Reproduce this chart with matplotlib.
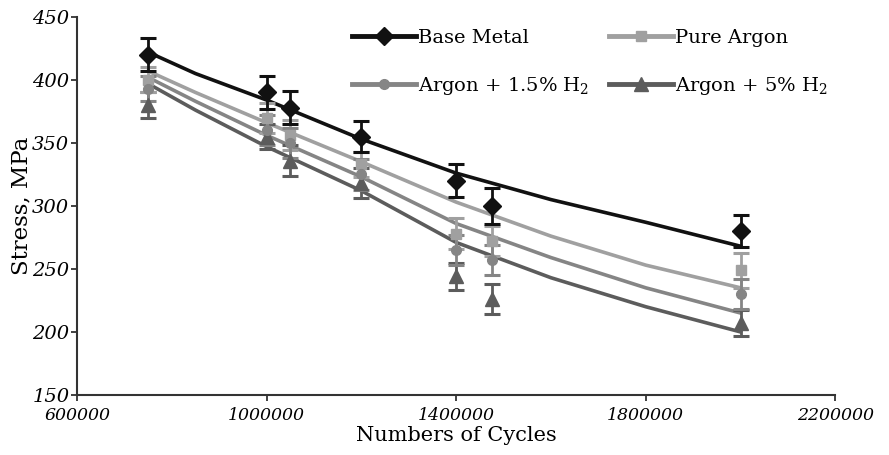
"""Fatigue S-N curve: base metal vs. welds under different shielding gases."""

import matplotlib
matplotlib.use("Agg")
import matplotlib.pyplot as plt

plt.rcParams["font.family"] = "DejaVu Serif"
plt.rcParams["mathtext.fontset"] = "dejavuserif"

# measured points (markers + error bars)
cycles = [750000, 1000000, 1050000, 1200000, 1400000, 1475000, 2000000]
base_metal = [420, 390, 378, 355, 320, 300, 280]
base_err = [13, 13, 13, 12, 13, 14, 13]
pure_argon = [400, 370, 356, 333, 278, 272, 249]
pure_err = [10, 12, 12, 10, 12, 12, 14]
argon_15 = [393, 360, 350, 325, 265, 257, 230]
argon_15_err = [10, 12, 12, 12, 12, 12, 12]
argon_5 = [380, 355, 336, 318, 244, 226, 207]
argon_5_err = [10, 10, 12, 12, 11, 12, 10]

# fitted trend curves
fit_cycles = [750000, 850000, 1000000, 1200000, 1400000, 1600000, 1800000, 2000000]
base_fit = [422, 405, 384, 353, 326, 305, 287, 268]
pure_fit = [407, 390, 366, 335, 303, 276, 253, 235]
argon_15_fit = [402, 383, 356, 323, 286, 259, 235, 215]
argon_5_fit = [397, 376, 347, 312, 271, 243, 220, 200]

series = [
    ("Base Metal", base_metal, base_err, base_fit, "#111111", "D", 9),
    ("Argon + 1.5% H$_2$", argon_15, argon_15_err, argon_15_fit, "#858585", "o", 7),
    ("Pure Argon", pure_argon, pure_err, pure_fit, "#a0a0a0", "s", 7),
    ("Argon + 5% H$_2$", argon_5, argon_5_err, argon_5_fit, "#5c5c5c", "^", 10),
]

fig = plt.figure(figsize=(8.89, 4.55), dpi=100)
ax = fig.add_axes([0.0866, 0.132, 0.853, 0.831])

handles = []
for label, vals, err, fit, color, marker, ms in reversed(series):
    ax.plot(fit_cycles, fit, color=color, lw=2.6, zorder=2)
    ax.errorbar(cycles, vals, yerr=err, fmt=marker, color=color, ms=ms,
                elinewidth=2.0, capsize=6, capthick=2.2, zorder=3)
for label, vals, err, fit, color, marker, ms in series:
    h, = ax.plot([], [], color=color, lw=3.5, marker=marker, ms=ms, label=label)
    handles.append(h)

ax.set_xlim(600000, 2200000)
ax.set_ylim(150, 450)
ax.set_xticks([600000, 1000000, 1400000, 1800000, 2200000])
ax.set_yticks(range(150, 451, 50))
ax.set_xticklabels(["600000", "1000000", "1400000", "1800000", "2200000"],
                   style="italic", fontsize=12.5)
ax.set_yticklabels([str(v) for v in range(150, 451, 50)],
                   style="italic", fontsize=14)
ax.tick_params(direction="out", length=4, width=1.3, color="#333333", pad=1.5)
ax.tick_params(axis="x", pad=5)
for s in ("top", "right"):
    ax.spines[s].set_visible(False)
for s in ("left", "bottom"):
    ax.spines[s].set_linewidth(1.5)
    ax.spines[s].set_color("#333333")

ax.set_xlabel("Numbers of Cycles", fontsize=15, labelpad=1)
ax.set_ylabel("Stress, MPa", fontsize=16.5, labelpad=0)

fig.legend(handles=handles, ncol=2, loc="upper left",
           bbox_to_anchor=(0.376, 0.975), frameon=False, fontsize=14,
           handlelength=3.3, handletextpad=0.1, columnspacing=1.0,
           labelspacing=1.45)

fig.savefig("out.png", dpi=100)
